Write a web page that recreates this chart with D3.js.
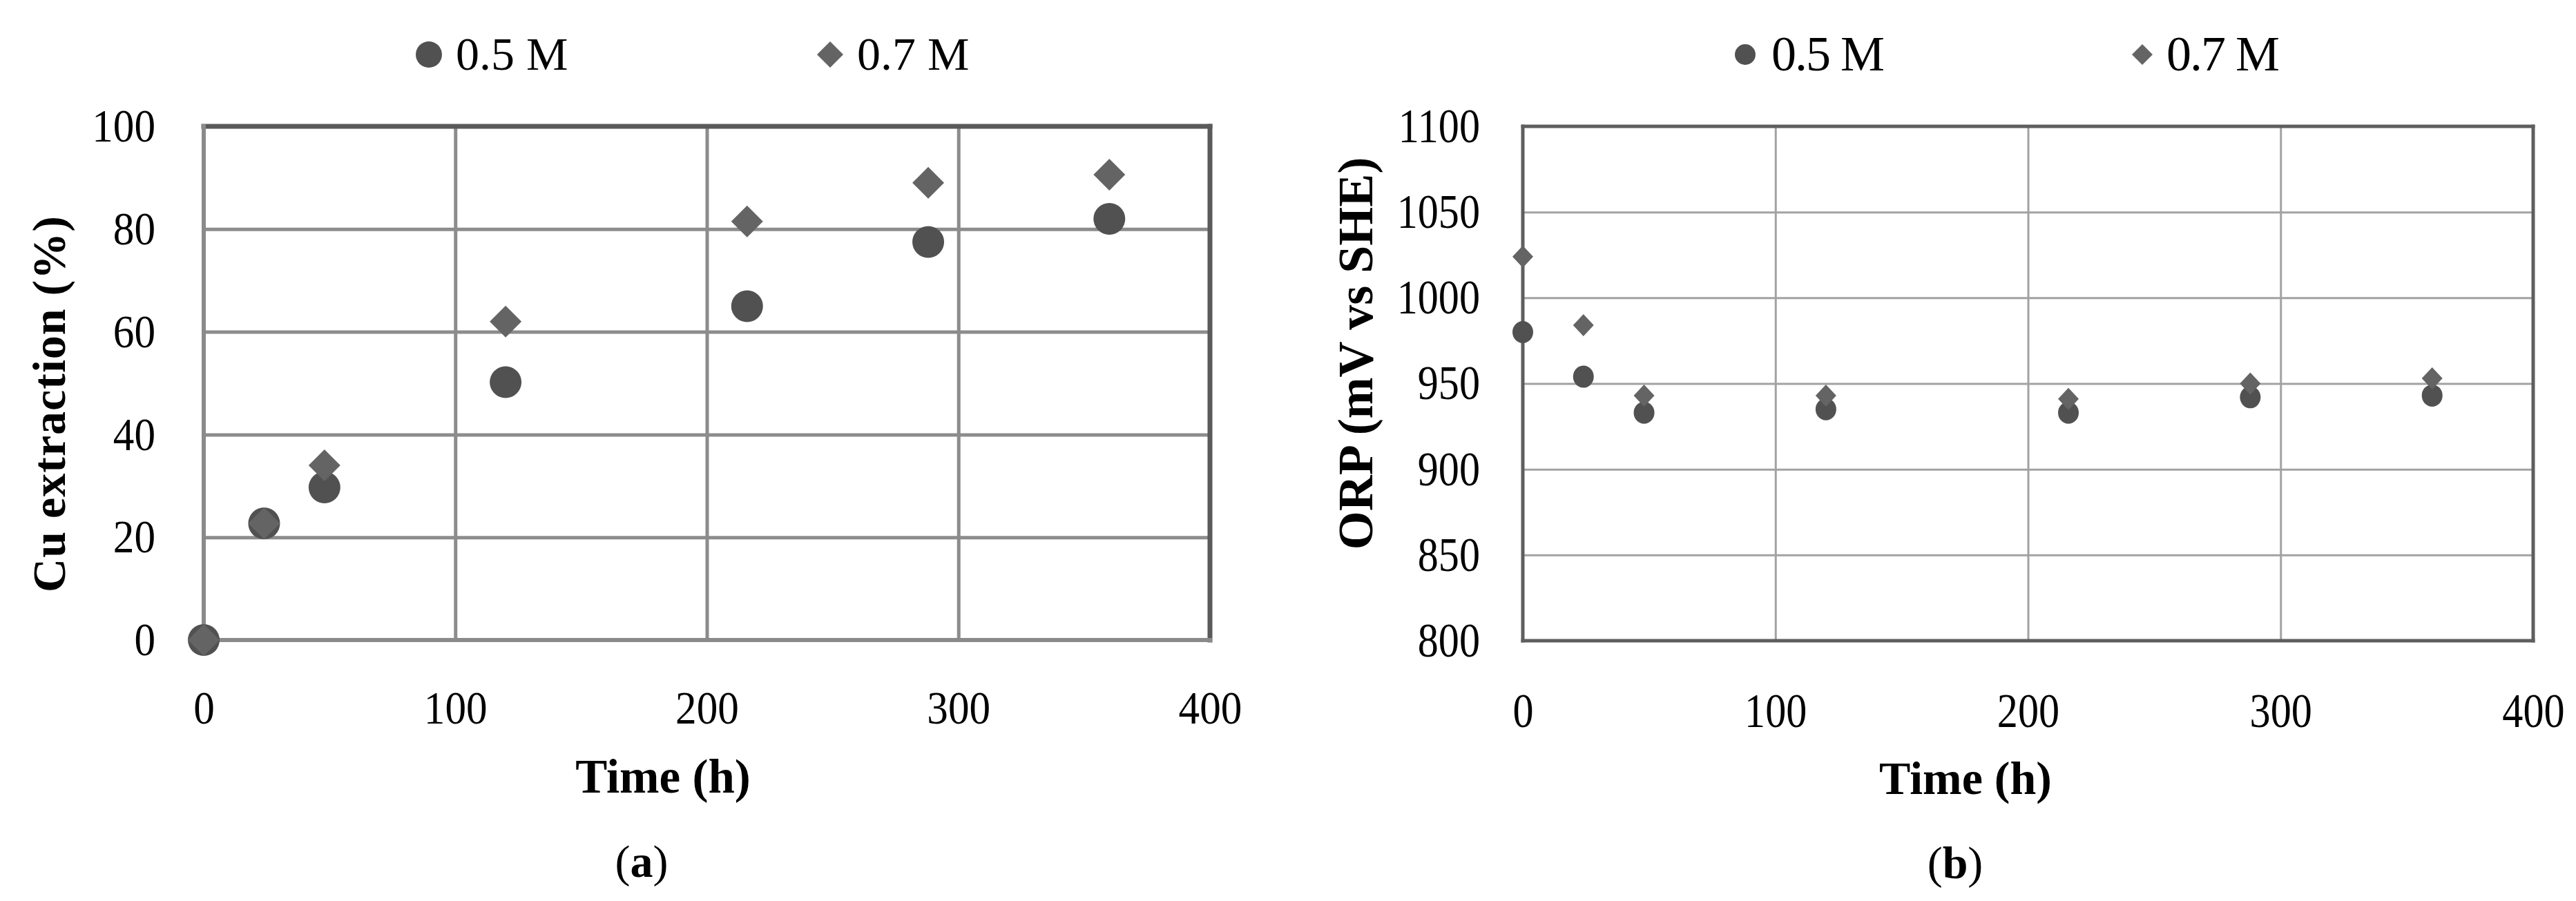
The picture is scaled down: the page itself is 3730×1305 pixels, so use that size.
<!DOCTYPE html>
<html>
<head>
<meta charset="utf-8">
<script src="https://cdn.jsdelivr.net/npm/d3@7"></script>
<style>
  body { margin: 0; background: #fff; }
  svg { display: block; font-family: "Liberation Serif", "Times New Roman", serif; }
</style>
</head>
<body>
<svg id="figure" width="3730" height="1305"></svg>
<script>
// data
const timeHours = [0, 24, 48, 120, 216, 288, 360];
const cuExtraction05 = [0, 22.7, 29.7, 50.2, 65, 77.5, 82];
const cuExtraction07 = [0, 22.7, 34, 62, 81.5, 89, 90.6];
const orp05 = [980, 954, 933, 935, 933, 942, 943];
const orp07 = [1024, 984, 943, 943, 941, 950, 953];
const seriesLabels = ["0.5 M", "0.7 M"];
const timeTicks = [0, 100, 200, 300, 400];
const cuTicks = [0, 20, 40, 60, 80, 100];
const orpTicks = [800, 850, 900, 950, 1000, 1050, 1100];

const circleColor = "#515151";
const diamondColor = "#646464";

// layout of the two panels
const panels = [
  {
    left: 295, right: 1752, top: 183, bottom: 927,
    yDomain: [0, 100], yTicks: cuTicks, values: [cuExtraction05, cuExtraction07],
    yTitle: "Cu extraction (%)", yTitleX: 70, yTitleY: 585, yTitleSize: 68, yTitleSpacing: 1,
    xTitleX: 960, xTitleY: 1148, xTitleSize: 69,
    letter: "a", letterX: 929, letterY: 1270,
    tickSize: 68, tickScale: 0.9, yLabelRight: 225, xLabelTop: 1000,
    grid: { color: "#8c8c8c", width: 5 },
    frame: { dark: "#5a5a5a", darkWidth: 7, light: "#8a8a8a", lightWidth: 6 },
    markerR: 23, markerH: 23,
    legend: { y: 79, items: [{ x: 621, textX: 660 }, { x: 1202, textX: 1241 }], r: 19, size: 68, spacing: 0 }
  },
  {
    left: 2205, right: 3668, top: 183, bottom: 928,
    yDomain: [800, 1100], yTicks: orpTicks, values: [orp05, orp07],
    yTitle: "ORP (mV vs SHE)", yTitleX: 1962, yTitleY: 512, yTitleSize: 72, yTitleSpacing: 0,
    xTitleX: 2846, xTitleY: 1150, xTitleSize: 68,
    letter: "b", letterX: 2831, letterY: 1272,
    tickSize: 70, tickScale: 0.86, yLabelRight: 2143, xLabelTop: 1003,
    grid: { color: "#a2a2a2", width: 3 },
    frame: { dark: "#5e5e5e", darkWidth: 5, light: "#5e5e5e", lightWidth: 5 },
    markerR: 15, markerH: 16,
    legend: { y: 79, items: [{ x: 2527, textX: 2565 }, { x: 3102, textX: 3137 }], r: 15, size: 72, spacing: -2 }
  }
];

const svg = d3.select("#figure");
const tickFormat = d3.format("d");

function diamondPath(cx, cy, w, h) {
  return `M${cx},${cy - h}L${cx + w},${cy}L${cx},${cy + h}L${cx - w},${cy}Z`;
}

function drawPanel(p) {
  const x = d3.scaleLinear().domain([0, 400]).range([p.left, p.right]);
  const y = d3.scaleLinear().domain(p.yDomain).range([p.bottom, p.top]);
  const g = svg.append("g");

  // gridlines
  g.append("g")
    .attr("transform", `translate(0,${p.bottom})`)
    .call(d3.axisBottom(x).tickValues(timeTicks).tickSize(-(p.bottom - p.top)).tickFormat(""))
    .call(a => a.select(".domain").remove())
    .call(a => a.selectAll("line").attr("stroke", p.grid.color).attr("stroke-width", p.grid.width));
  g.append("g")
    .attr("transform", `translate(${p.left},0)`)
    .call(d3.axisLeft(y).tickValues(p.yTicks).tickSize(-(p.right - p.left)).tickFormat(""))
    .call(a => a.select(".domain").remove())
    .call(a => a.selectAll("line").attr("stroke", p.grid.color).attr("stroke-width", p.grid.width));

  // frame: top and right dark, left and bottom axis lines
  const f = p.frame;
  g.append("line").attr("x1", p.left).attr("x2", p.right).attr("y1", p.top).attr("y2", p.top)
    .attr("stroke", f.dark).attr("stroke-width", f.darkWidth).attr("stroke-linecap", "square");
  g.append("line").attr("x1", p.right).attr("x2", p.right).attr("y1", p.top).attr("y2", p.bottom)
    .attr("stroke", f.dark).attr("stroke-width", f.darkWidth).attr("stroke-linecap", "square");
  g.append("line").attr("x1", p.left).attr("x2", p.left).attr("y1", p.top).attr("y2", p.bottom)
    .attr("stroke", f.light).attr("stroke-width", f.lightWidth).attr("stroke-linecap", "square");
  g.append("line").attr("x1", p.left).attr("x2", p.right).attr("y1", p.bottom).attr("y2", p.bottom)
    .attr("stroke", f.light).attr("stroke-width", f.lightWidth).attr("stroke-linecap", "square");

  // tick labels
  const xAxis = g.append("g")
    .attr("transform", `translate(0,${p.bottom})`)
    .call(d3.axisBottom(x).tickValues(timeTicks).tickFormat(tickFormat)
      .tickSize(0).tickPadding(p.xLabelTop - p.bottom));
  xAxis.select(".domain").remove();
  xAxis.selectAll("text")
    .attr("font-size", p.tickSize).attr("fill", "#000")
    .attr("font-family", "Liberation Serif")
    .attr("transform", `scale(${p.tickScale},1)`);

  const yAxis = g.append("g")
    .attr("transform", `translate(${p.left},0)`)
    .call(d3.axisLeft(y).tickValues(p.yTicks).tickFormat(tickFormat).tickSize(0));
  yAxis.select(".domain").remove();
  yAxis.selectAll("text")
    .attr("font-size", p.tickSize).attr("fill", "#000")
    .attr("font-family", "Liberation Serif")
    .attr("x", -(p.left - p.yLabelRight) / p.tickScale)
    .attr("transform", `scale(${p.tickScale},1)`);

  // markers: circles then diamonds on top
  g.append("g").selectAll("ellipse")
    .data(timeHours.map((t, i) => ({ t, v: p.values[0][i] })))
    .join("ellipse")
    .attr("cx", d => x(d.t)).attr("cy", d => y(d.v))
    .attr("rx", p.markerR).attr("ry", p.markerH)
    .attr("fill", circleColor);
  g.append("g").selectAll("path")
    .data(timeHours.map((t, i) => ({ t, v: p.values[1][i] })))
    .join("path")
    .attr("d", d => diamondPath(x(d.t), y(d.v), p.markerR, p.markerH))
    .attr("fill", diamondColor);

  // axis titles
  g.append("text")
    .attr("transform", `translate(${p.yTitleX},${p.yTitleY}) rotate(-90)`)
    .attr("text-anchor", "middle").attr("dy", "0.35em")
    .attr("font-weight", "bold").attr("font-size", p.yTitleSize)
    .attr("letter-spacing", p.yTitleSpacing)
    .text(p.yTitle);
  g.append("text")
    .attr("x", p.xTitleX).attr("y", p.xTitleY)
    .attr("text-anchor", "middle")
    .attr("font-weight", "bold").attr("font-size", p.xTitleSize)
    .text("Time (h)");

  // panel letter
  const lt = g.append("text")
    .attr("x", p.letterX).attr("y", p.letterY)
    .attr("text-anchor", "middle").attr("font-size", 66);
  lt.append("tspan").text("(");
  lt.append("tspan").attr("font-weight", "bold").text(p.letter);
  lt.append("tspan").text(")");

  // legend
  const lg = p.legend;
  const li = lg.items;
  g.append("ellipse").attr("cx", li[0].x).attr("cy", lg.y).attr("rx", lg.r).attr("ry", lg.r)
    .attr("fill", circleColor);
  g.append("path").attr("d", diamondPath(li[1].x, lg.y, lg.r, lg.r)).attr("fill", diamondColor);
  seriesLabels.forEach((s, i) => {
    g.append("text")
      .attr("x", li[i].textX).attr("y", lg.y).attr("dy", "0.32em")
      .attr("font-size", lg.size).attr("letter-spacing", lg.spacing)
      .text(s);
  });
}

panels.forEach(drawPanel);
</script>
</body>
</html>
